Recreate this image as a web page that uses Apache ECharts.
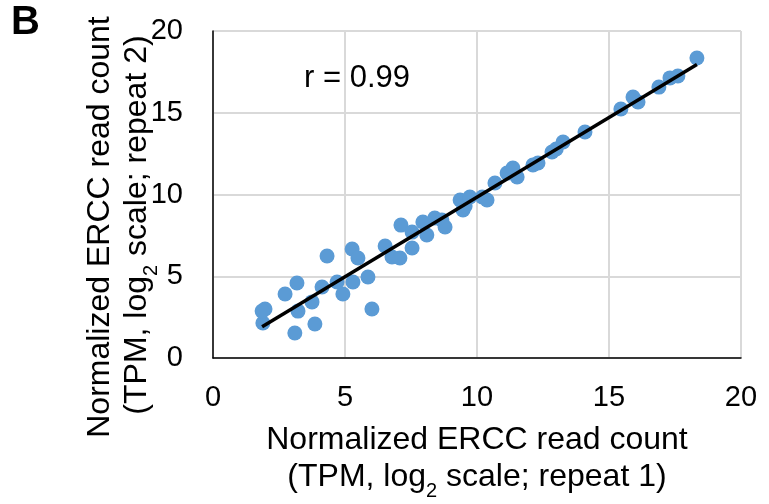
<!DOCTYPE html>
<html><head><meta charset="utf-8">
<script src="https://cdn.jsdelivr.net/npm/echarts@6/dist/echarts.min.js"></script>
<style>html,body{margin:0;padding:0;background:#fff}#c{width:769px;height:504px}</style>
</head><body><div id="c"></div>
<script>
// Repeat 1 (x) and repeat 2 (y), log2 TPM
const repeat1 = [1.89,1.97,1.86,3.10,3.22,3.18,2.73,3.75,3.86,4.13,4.32,4.70,4.92,5.27,5.30,5.49,5.87,6.02,6.52,6.78,7.08,7.12,7.54,7.54,7.95,8.10,8.40,8.67,8.79,9.36,9.47,9.55,9.73,10.20,10.38,10.68,11.14,11.52,11.36,12.12,12.31,12.84,13.00,13.26,14.09,15.45,15.91,16.10,16.89,17.31,17.61,18.33];
const repeat2 = [2.14,3.00,2.87,1.53,2.87,4.59,3.91,3.43,2.08,4.34,6.24,4.65,3.91,6.67,4.65,6.12,4.95,3.00,6.85,6.18,6.12,8.13,7.70,6.73,8.32,7.52,8.56,8.44,8.01,9.66,9.05,9.30,9.85,9.85,9.66,10.70,11.31,11.07,11.62,11.80,11.93,12.60,12.78,13.21,13.82,15.23,15.96,15.66,16.57,17.13,17.25,18.35];
const axisTicks = [0,5,10,15,20];
const corrLabel = 'r = 0.99';

// least squares trend line (as Excel's linear trendline)
const n = repeat1.length;
const mx = repeat1.reduce((a,b)=>a+b,0)/n, my = repeat2.reduce((a,b)=>a+b,0)/n;
let sxy=0, sxx=0;
for (let i=0;i<n;i++){ sxy+=(repeat1[i]-mx)*(repeat2[i]-my); sxx+=(repeat1[i]-mx)**2; }
const slope = sxy/sxx, icpt = my - slope*mx;
const xmin = Math.min(...repeat1), xmax = Math.max(...repeat1);
const trend = [[xmin, icpt+slope*xmin],[xmax, icpt+slope*xmax]];

const FONT = '"Liberation Sans", Arial, sans-serif';
const chart = echarts.init(document.getElementById('c'), null, {renderer:'canvas'});
const axisCommon = {
  type:'value', min:axisTicks[0], max:axisTicks[axisTicks.length-1], interval:5,
  axisLine:{show:true, lineStyle:{color:'#000', width:1.5}},
  axisTick:{show:false},
  splitLine:{show:true, lineStyle:{color:'#d9d9d9', width:2}},
  axisLabel:{color:'#000', fontFamily:FONT, fontSize:29}
};
const richSub = {m:{fontSize:32, fontFamily:FONT, lineHeight:36, verticalAlign:'middle'}, s:{fontSize:20, fontFamily:FONT, lineHeight:20, verticalAlign:'bottom', padding:[0,0,-6,0]}};
chart.setOption({
  animation:false,
  grid:{left:213, right:28, top:31, bottom:146},
  xAxis:Object.assign({}, axisCommon, {axisLabel:Object.assign({}, axisCommon.axisLabel, {margin:25})}),
  yAxis:Object.assign({}, axisCommon, {axisLabel:Object.assign({}, axisCommon.axisLabel, {margin:30})}),
  series:[
    {type:'scatter', data:repeat1.map((x,i)=>[x,repeat2[i]]), symbolSize:15,
     itemStyle:{color:'#5B9BD5', opacity:1}, z:2},
    {type:'line', data:trend, symbol:'none', lineStyle:{color:'#000', width:3.5}, z:3}
  ],
  graphic:[
    {type:'text', left:11, top:3, style:{text:'B', font:'bold 40px '+FONT, fill:'#000'}},
    {type:'text', x:357, y:78, style:{text:corrLabel, font:'31px '+FONT, fill:'#000', align:'center', verticalAlign:'middle'}},
    {type:'text', x:477, y:440, style:{text:'Normalized ERCC read count', font:'32px '+FONT, fill:'#000', align:'center', verticalAlign:'middle'}},
    {type:'text', x:477, y:477, style:{text:'(TPM, {m|log}{s|2}{m| scale; repeat 1)}', font:'32px '+FONT, fill:'#000', align:'center', verticalAlign:'middle', rich:richSub}},
    {type:'text', x:100, y:227, rotation:Math.PI/2, style:{text:'Normalized ERCC read count', font:'32px '+FONT, fill:'#000', align:'center', verticalAlign:'middle'}},
    {type:'text', x:137, y:225, rotation:Math.PI/2, style:{text:'(TPM, {m|log}{s|2}{m| scale; repeat 2)}', font:'32px '+FONT, fill:'#000', align:'center', verticalAlign:'middle', rich:richSub}}
  ]
});
</script></body></html>
